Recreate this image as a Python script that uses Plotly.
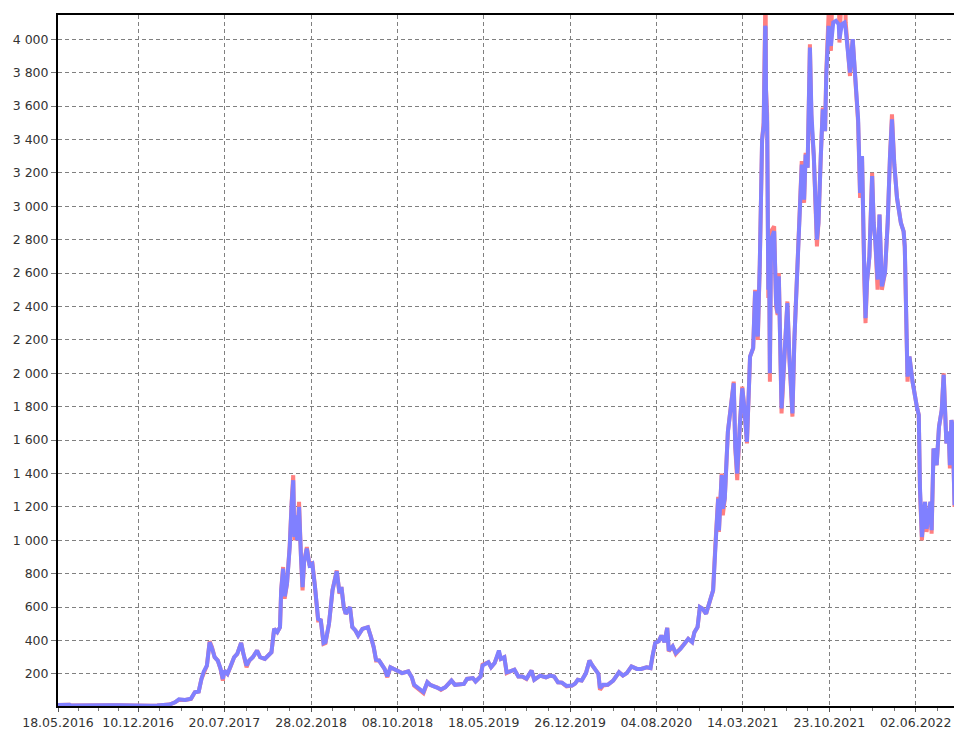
import pandas as pd
import plotly.graph_objects as go

# ---- data ----
dates = [
    "2016-05-18","2016-06-01","2016-06-12","2016-06-17","2016-06-20","2016-07-01","2016-07-24","2016-08-10",
    "2016-09-01","2016-09-25","2016-10-20","2016-11-15","2016-12-10","2016-12-28",
    "2017-01-10","2017-01-28","2017-02-15","2017-03-01","2017-03-15","2017-03-25","2017-04-10","2017-04-25",
    "2017-05-05","2017-05-15","2017-05-22","2017-05-28","2017-06-05","2017-06-12","2017-06-18","2017-06-25",
    "2017-07-03","2017-07-10","2017-07-16","2017-07-20","2017-07-28","2017-08-05","2017-08-14","2017-08-22",
    "2017-09-01","2017-09-07","2017-09-15","2017-09-22","2017-10-01","2017-10-12","2017-10-20","2017-11-01",
    "2017-11-10","2017-11-18","2017-11-25","2017-12-03","2017-12-10","2017-12-13","2017-12-18","2017-12-22",
    "2017-12-28",
    "2018-01-04","2018-01-09","2018-01-13","2018-01-16","2018-01-20","2018-01-23","2018-01-28","2018-02-02",
    "2018-02-06","2018-02-10","2018-02-17","2018-02-24","2018-03-03","2018-03-10","2018-03-18","2018-03-25",
    "2018-04-01","2018-04-06","2018-04-15","2018-04-24","2018-05-05","2018-05-12","2018-05-17","2018-05-23",
    "2018-05-28","2018-06-08","2018-06-14","2018-06-22","2018-06-29","2018-07-10","2018-07-24","2018-08-01",
    "2018-08-08","2018-08-14","2018-08-22","2018-09-05","2018-09-12","2018-09-20","2018-09-30","2018-10-10",
    "2018-10-20","2018-11-05","2018-11-14","2018-11-20","2018-11-28","2018-12-07","2018-12-14","2018-12-24",
    "2018-12-31",
    "2019-01-10","2019-01-18","2019-01-28","2019-02-08","2019-02-18","2019-02-24","2019-03-05","2019-03-15",
    "2019-03-28","2019-04-05","2019-04-20","2019-04-27","2019-05-10","2019-05-15","2019-05-22","2019-05-30",
    "2019-06-06","2019-06-15","2019-06-26","2019-07-01","2019-07-10","2019-07-16","2019-07-25","2019-08-05",
    "2019-08-15","2019-08-25","2019-09-05","2019-09-18","2019-09-25","2019-10-10","2019-10-25","2019-11-05",
    "2019-11-15","2019-11-25","2019-12-05","2019-12-17","2019-12-31",
    "2020-01-08","2020-01-15","2020-01-25","2020-02-05","2020-02-14","2020-02-20","2020-02-28","2020-03-08",
    "2020-03-12","2020-03-20","2020-04-01","2020-04-15","2020-04-30","2020-05-10","2020-05-20","2020-06-01",
    "2020-06-15","2020-06-26","2020-07-10","2020-07-20","2020-07-25","2020-08-01","2020-08-10","2020-08-17",
    "2020-08-25","2020-09-01","2020-09-05","2020-09-15","2020-09-23","2020-10-05","2020-10-15","2020-10-25",
    "2020-11-04","2020-11-10","2020-11-18","2020-11-24","2020-12-01","2020-12-10","2020-12-20","2020-12-28",
    "2021-01-03","2021-01-10","2021-01-12","2021-01-19","2021-01-22","2021-01-27","2021-02-04","2021-02-10",
    "2021-02-19","2021-02-23","2021-02-28","2021-03-07","2021-03-13","2021-03-18","2021-03-25","2021-04-02",
    "2021-04-10","2021-04-15","2021-04-22","2021-04-27","2021-05-03","2021-05-07","2021-05-11","2021-05-12",
    "2021-05-13","2021-05-16","2021-05-19","2021-05-21","2021-05-23","2021-05-26","2021-06-03","2021-06-08",
    "2021-06-12","2021-06-15","2021-06-22","2021-06-28","2021-07-07","2021-07-12","2021-07-20","2021-07-25",
    "2021-08-01","2021-08-05","2021-08-13","2021-08-19","2021-08-23","2021-08-28","2021-09-03","2021-09-07",
    "2021-09-13","2021-09-21","2021-09-25","2021-10-01","2021-10-06","2021-10-12","2021-10-15","2021-10-21",
    "2021-10-27","2021-11-02","2021-11-09","2021-11-16","2021-11-18","2021-11-24","2021-12-01","2021-12-04",
    "2021-12-10","2021-12-15","2021-12-22","2021-12-28",
    "2022-01-01","2022-01-05","2022-01-10","2022-01-15","2022-01-21","2022-01-24","2022-01-28","2022-02-03",
    "2022-02-10","2022-02-14","2022-02-18","2022-02-24","2022-03-01","2022-03-07","2022-03-15","2022-03-22",
    "2022-03-28","2022-04-02","2022-04-08","2022-04-15","2022-04-25","2022-05-02","2022-05-05","2022-05-10",
    "2022-05-12","2022-05-17","2022-05-25","2022-06-05","2022-06-10","2022-06-13","2022-06-18","2022-06-22",
    "2022-06-26","2022-06-30","2022-07-05","2022-07-10","2022-07-13","2022-07-18","2022-07-26","2022-08-01",
    "2022-08-08","2022-08-13","2022-08-20","2022-08-26","2022-08-29","2022-09-02","2022-09-05","2022-09-08",
    "2022-09-10",
]

red_values = [
    13.5,14,18,15,11.5,12,14,11,
    12,13,12,10,8,8,
    10,10.5,12.5,17,30,45,44,50,
    90,95,170,210,250,395,360,300,
    280,230,160,220,200,245,300,320,
    385,320,240,280,300,340,300,290,
    310,330,470,450,480,700,840,650,
    740,
    970,1230,1390,1000,1150,1000,1230,900,
    700,870,960,850,870,720,520,520,
    380,385,500,700,820,680,720,600,
    560,600,480,460,430,470,480,420,
    360,280,280,230,180,240,230,220,
    205,215,180,130,115,95,85,150,
    135,
    125,120,105,120,145,160,135,135,
    140,170,175,155,185,255,260,270,
    240,265,330,290,300,205,215,225,
    185,185,170,220,165,190,180,190,
    185,150,148,125,130,
    142,165,160,205,280,255,225,200,
    105,130,135,160,210,190,205,245,
    230,230,240,235,300,385,395,430,
    390,475,335,365,320,350,380,410,
    390,450,480,600,590,560,640,700,
    980,1260,1050,1400,1150,1250,1650,1760,
    1950,1550,1360,1700,1920,1800,1580,2100,
    2150,2500,2200,2650,3400,3500,4200,4350,
    3700,3550,2450,2800,1950,2850,2880,2400,
    2350,2600,1760,2050,2430,2100,1740,2200,
    2600,2800,3270,3020,3320,3230,3970,3500,
    3300,2760,2900,3300,3590,3450,3800,4150,
    3930,4500,4800,4400,3980,4300,4600,4100,
    3900,3780,4000,3800,
    3700,3500,3050,3300,2550,2300,2550,2700,
    3200,2900,2800,2500,2950,2500,2600,2900,
    3300,3550,3250,3050,2900,2850,2750,2250,
    1950,2100,1950,1800,1750,1300,1000,1120,
    1230,1050,1150,1230,1040,1550,1450,1680,
    1780,2000,1580,1650,1430,1720,1680,1270,
    1200,
]

blue_values = [
    13.5,14,18,15,11.5,12,14,11,
    12,13,12,10,8,8,
    10,10.5,12.5,17,30,48,44,52,
    90,95,170,215,250,390,355,300,
    280,232,170,220,200,245,300,320,
    385,320,250,280,300,340,300,290,
    310,330,470,450,480,700,830,665,
    740,
    960,1220,1360,1020,1150,1000,1200,900,
    720,870,950,850,860,720,530,520,
    385,390,500,700,815,685,720,600,
    560,600,480,460,430,470,480,420,
    360,285,280,230,185,240,230,220,
    205,215,180,135,118,100,92,150,
    135,
    125,120,108,120,145,160,135,135,
    140,170,175,155,185,250,260,270,
    240,265,340,290,300,210,215,225,
    185,185,172,220,165,190,180,190,
    185,150,148,128,130,
    142,165,160,205,280,255,225,200,
    115,135,135,160,210,190,205,245,
    230,230,240,235,305,385,395,430,
    390,475,340,365,325,350,380,410,
    390,450,480,600,590,560,640,700,
    960,1250,1060,1390,1190,1250,1650,1760,
    1940,1560,1400,1700,1910,1800,1590,2100,
    2150,2490,2220,2650,3400,3480,4080,4070,
    3700,3500,2500,2780,2000,2800,2850,2420,
    2360,2580,1790,2050,2420,2110,1760,2200,
    2600,2780,3250,3040,3310,3230,3950,3550,
    3300,2800,2900,3300,3580,3450,3780,4080,
    3960,4100,4110,4090,4000,4090,4100,4060,
    3930,3800,4000,3800,
    3700,3520,3080,3300,2600,2330,2550,2700,
    3180,2900,2800,2560,2950,2520,2600,2900,
    3300,3520,3250,3050,2900,2850,2760,2250,
    1980,2100,1950,1800,1750,1320,1020,1120,
    1230,1070,1150,1230,1060,1550,1450,1680,
    1780,1990,1580,1650,1450,1720,1680,1280,
    1210,
]

tick_dates = ["2016-05-18","2016-12-10","2017-07-20","2018-02-28","2018-10-08","2019-05-18",
              "2019-12-26","2020-08-04","2021-03-14","2021-10-23","2022-06-02"]
tick_labels = ["18.05.2016","10.12.2016","20.07.2017","28.02.2018","08.10.2018","18.05.2019",
               "26.12.2019","04.08.2020","14.03.2021","23.10.2021","02.06.2022"]

y_tick_values = [200,400,600,800,1000,1200,1400,1600,1800,2000,2200,2400,2600,2800,3000,
                 3200,3400,3600,3800,4000]
y_tick_labels = ["200","400","600","800","1 000","1 200","1 400","1 600","1 800","2 000",
                 "2 200","2 400","2 600","2 800","3 000","3 200","3 400","3 600","3 800","4 000"]

# minor ticks: quarters between the major ticks
td = pd.to_datetime(tick_dates)
minor_ticks = []
for a, b in zip(td[:-1], td[1:]):
    for k in range(1, 4):
        minor_ticks.append((a + (b - a) * k / 4).strftime("%Y-%m-%d %H:%M"))
last = td[-1]
step = (td[-1] - td[-2]) / 4
for k in range(1, 4):
    minor_ticks.append((last + step * k).strftime("%Y-%m-%d %H:%M"))

fig = go.Figure()
fig.add_trace(go.Scatter(x=dates, y=red_values, mode="lines",
                         line=dict(color="#FF7F7F", width=4), showlegend=False))
fig.add_trace(go.Scatter(x=dates, y=blue_values, mode="lines",
                         line=dict(color="#8080FF", width=4), showlegend=False))

font = dict(family="DejaVu Sans", size=12.5, color="#333333")

fig.update_layout(
    width=954, height=731,
    margin=dict(l=58, r=0, t=15, b=25),
    paper_bgcolor="white", plot_bgcolor="white",
    font=font,
    xaxis=dict(
        type="date",
        range=["2016-05-18", "2022-09-08 14:00"],
        tickmode="array", tickvals=tick_dates, ticktext=tick_labels,
        showgrid=True, gridcolor="#808080", gridwidth=1, griddash="4px,3px",
        showline=True, linecolor="black", linewidth=2, mirror=True,
        ticks="outside", ticklen=4, tickcolor="#555555",
        minor=dict(tickvals=minor_ticks, ticks="outside", ticklen=3, tickcolor="#777777", showgrid=False),
        zeroline=False, tickfont=font, automargin=False,
    ),
    yaxis=dict(
        range=[8, 4145],
        tickmode="array", tickvals=y_tick_values, ticktext=y_tick_labels,
        showgrid=True, gridcolor="#808080", gridwidth=1, griddash="4px,3px",
        showline=True, linecolor="black", linewidth=2, mirror=False,
        ticks="outside", ticklen=5, tickcolor="#777777",
        zeroline=False, tickfont=font, automargin=False,
    ),
)

# remove the default page margin so the figure sits at the window's top-left corner
fig.write_html("out.html",
               config={"displayModeBar": False},
               post_script="document.body.style.margin='0';document.body.style.overflow='hidden';")
